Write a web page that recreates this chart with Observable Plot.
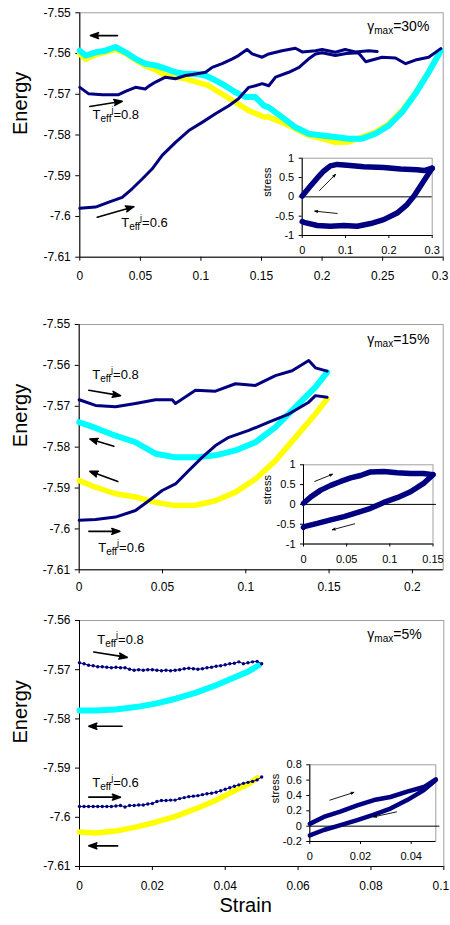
<!DOCTYPE html>
<html><head><meta charset="utf-8">
<script src="https://cdn.jsdelivr.net/npm/d3@7"></script>
<script src="https://cdn.jsdelivr.net/npm/@observablehq/plot@0.6"></script>
<style>
html,body{margin:0;padding:0;background:#fff;overflow:hidden}
#chart{position:relative;width:450px;height:925px}
#chart svg{position:absolute;left:0}
</style></head><body><div id="chart"></div>
<script>
// ---------- Panel 1 (gamma_max = 30%) ----------
const p1xTicks = [0, 0.05, 0.1, 0.15, 0.2, 0.25, 0.3];
const p1yTicks = [-7.55, -7.56, -7.57, -7.58, -7.59, -7.6, -7.61];
const p1Navy08X = [0, .0074, .0185, .032, .0377, .046, .054, .057, .0625, .0707, .079, .0873, .0955, .1038, .1093, .1175, .126, .131, .138, .1423, .1506, .156, .167, .178, .1836, .1946, .2, .211, .219, .2276, .2386, .2455];
const p1Navy08Y = [-7.5683, -7.5699, -7.5701, -7.5701, -7.5693, -7.5683, -7.5687, -7.5680, -7.5670, -7.5658, -7.5662, -7.5654, -7.5650, -7.5646, -7.5634, -7.5625, -7.5613, -7.5605, -7.5590, -7.5601, -7.5609, -7.5601, -7.5593, -7.5587, -7.5596, -7.5593, -7.5590, -7.5597, -7.5590, -7.5596, -7.5593, -7.5595];
const p1Navy06X = [0, .013, .024, .035, .0432, .0515, .0598, .068, .079, .090, .101, .112, .123, .131, .1395, .145, .1506, .156, .1616, .1725, .181, .189, .1946, .2, .211, .22, .23, .236, .2496, .2606, .269, .277, .288, .298];
const p1Navy06Y = [-7.5980, -7.5977, -7.5965, -7.5953, -7.5932, -7.5908, -7.5883, -7.5850, -7.5818, -7.5789, -7.5769, -7.5748, -7.5728, -7.5711, -7.5683, -7.5679, -7.5674, -7.5679, -7.5658, -7.5646, -7.5634, -7.5613, -7.5601, -7.5598, -7.5605, -7.5600, -7.5598, -7.5620, -7.5609, -7.5611, -7.5625, -7.5616, -7.5609, -7.5588];
const p1CyanX = [0, .0047, .013, .021, .0295, .0377, .046, .054, .0625, .0707, .079, .0873, .0955, .1038, .112, .120, .1285, .137, .145, .152, .156, .167, .178, .189, .200, .211, .222, .233, .244, .255, .266, .277, .288, .298];
const p1CyanY = [-7.5593, -7.5605, -7.5597, -7.5593, -7.5584, -7.5597, -7.5613, -7.5625, -7.5629, -7.5637, -7.5646, -7.5650, -7.5650, -7.5654, -7.5666, -7.5679, -7.5695, -7.5707, -7.5707, -7.5728, -7.5732, -7.5756, -7.5781, -7.5797, -7.5801, -7.5805, -7.5809, -7.5809, -7.5797, -7.5777, -7.5744, -7.5699, -7.5646, -7.5593];
const p1YellowX = [0, .0047, .013, .021, .0295, .0377, .046, .054, .0625, .0707, .0873, .106, .115, .126, .1395, .152, .156, .167, .178, .189, .200, .211, .222, .233, .244, .255, .266, .277, .288, .298];
const p1YellowY = [-7.5601, -7.5614, -7.5603, -7.5597, -7.5590, -7.5600, -7.5616, -7.5630, -7.5640, -7.5654, -7.5662, -7.5678, -7.5695, -7.5715, -7.5740, -7.5756, -7.5756, -7.5769, -7.5785, -7.5801, -7.5809, -7.5818, -7.5817, -7.5805, -7.5793, -7.5773, -7.5740, -7.5697, -7.5645, -7.5593];
const p1Arrows = [[.0311, -7.5556, .0088, -7.5556], [.0083, -7.5730, .035, -7.5717], [.0144, -7.6002, .0446, -7.5976]];
const p1Labels = [[.0105, -7.5760, "T_eff^j=0.8"], [.0342, -7.6026, "T_eff^j=0.6"], [.2373, -7.5545, "γ_max=30%"]];
// inset 1
const i1xTicks = [0, 0.1, 0.2, 0.3];
const i1yTicks = [1, 0.5, 0, -0.5, -1];
const i1LoadX = [0, .019, .035, .050, .065, .081, .104, .142, .188, .227, .265, .281, .3];
const i1LoadY = [0.02, 0.28, 0.49, 0.67, 0.80, 0.84, 0.82, 0.78, 0.76, 0.72, 0.70, 0.68, 0.74];
const i1UnloadX = [.3, .288, .273, .258, .242, .219, .188, .158, .127, .096, .065, .035, .004, 0];
const i1UnloadY = [0.74, 0.54, 0.28, 0.02, -0.20, -0.42, -0.59, -0.69, -0.76, -0.74, -0.76, -0.74, -0.66, -0.64];
const i1Arrows = [[.040, .166, .0768, .58], [.0808, -.43, .029, -.37]];

// ---------- Panel 2 (gamma_max = 15%) ----------
const p2xTicks = [0, 0.05, 0.1, 0.15, 0.2];
const p2yTicks = [-7.55, -7.56, -7.57, -7.58, -7.59, -7.6, -7.61];
const p2Navy08X = [0, .0098, .0218, .0338, .0458, .0558, .0578, .0698, .0818, .0938, .1058, .1178, .1278, .1378, .1418, .1488];
const p2Navy08Y = [-7.5684, -7.5698, -7.5701, -7.5693, -7.5684, -7.5684, -7.5693, -7.5661, -7.5663, -7.5645, -7.5649, -7.5625, -7.5613, -7.5588, -7.5606, -7.5614];
const p2Navy06X = [0, .0098, .0218, .0338, .0418, .0498, .0578, .0658, .0738, .0818, .0898, .1018, .1138, .1258, .1378, .1418, .1488];
const p2Navy06Y = [-7.5979, -7.5977, -7.5971, -7.5955, -7.5931, -7.5906, -7.5890, -7.5857, -7.5825, -7.5796, -7.5776, -7.5759, -7.5739, -7.5719, -7.5690, -7.5674, -7.5678];
const p2CurveX = [0, .0098, .0218, .0338, .0458, .0578, .0698, .0818, .0938, .1058, .1178, .1298, .1418, .1488];
const p2CyanY = [-7.5739, -7.5753, -7.5772, -7.5788, -7.5816, -7.5825, -7.5825, -7.5820, -7.5808, -7.5788, -7.5751, -7.5702, -7.5653, -7.5617];
const p2YellowY = [-7.5882, -7.5898, -7.5914, -7.5922, -7.5935, -7.5943, -7.5942, -7.5931, -7.5910, -7.5878, -7.5833, -7.5776, -7.5719, -7.5682];
const p2Arrows = [[.0058, -7.5661, .0248, -7.5674], [.0208, -7.5798, .0064, -7.5780], [.0232, -7.5884, .0064, -7.5859], [.0058, -7.6006, .0244, -7.6006]];
const p2Labels = [[.0078, -7.5633, "T_eff^j=0.8"], [.0114, -7.6057, "T_eff^j=0.6"], [.1729, -7.5547, "γ_max=15%"]];
// inset 2
const i2xTicks = [0, 0.05, 0.1, 0.15];
const i2yTicks = [1, 0.5, 0, -0.5, -1];
const i2LoadX = [0, .0085, .020, .0315, .043, .0546, .066, .0777, .093, .1085, .124, .139, .15];
const i2LoadY = [0.03, .19, .36, .48, .58, .67, .73, .82, .83, .80, .78, .78, .75];
const i2UnloadX = [.15, .139, .124, .1085, .093, .0777, .062, .047, .0315, .016, .0008, 0];
const i2UnloadY = [.75, .53, .32, .17, .05, -.10, -.21, -.31, -.39, -.48, -.56, -.58];
const i2Arrows = [[.013, .58, .0335, .76], [.0592, -.49, .0335, -.64]];

// ---------- Panel 3 (gamma_max = 5%) ----------
const p3xTicks = [0, 0.02, 0.04, 0.06, 0.08, 0.1];
const p3yTicks = [-7.56, -7.57, -7.58, -7.59, -7.6, -7.61];
const p3NavyX = [0, .00125, .0025, .00375, .005, .00625, .0075, .00875, .01, .01125, .0125, .01375, .015, .01625, .0175, .01875, .02, .02125, .0225, .02375, .025, .02625, .0275, .02875, .03, .03125, .0325, .03375, .035, .03625, .0375, .03875, .04, .04125, .0425, .04375, .045, .04625, .0475, .04875, .05];
const p3Navy08Y = [-7.5686, -7.5688, -7.5691, -7.5692, -7.5694, -7.5694, -7.5695, -7.5696, -7.5695, -7.5696, -7.5696, -7.5699, -7.5701, -7.5700, -7.5701, -7.5700, -7.5700, -7.5701, -7.5702, -7.5701, -7.5702, -7.5701, -7.5700, -7.5698, -7.5697, -7.5698, -7.5699, -7.5698, -7.5696, -7.5695, -7.5693, -7.5692, -7.5690, -7.5688, -7.5687, -7.5684, -7.5688, -7.5686, -7.5684, -7.5683, -7.5688];
const p3Navy06Y = [-7.5978, -7.5978, -7.5978, -7.5978, -7.5978, -7.5978, -7.5978, -7.5978, -7.5977, -7.5976, -7.5979, -7.5976, -7.5976, -7.5975, -7.5975, -7.5973, -7.5972, -7.5968, -7.5966, -7.5966, -7.5965, -7.5965, -7.5962, -7.5960, -7.5958, -7.5957, -7.5956, -7.5954, -7.5952, -7.5951, -7.5949, -7.5946, -7.5943, -7.5940, -7.5937, -7.5934, -7.5931, -7.5929, -7.5927, -7.5924, -7.5918];
const p3CyanX = [0, .0044, .0099, .0154, .0209, .0264, .0318, .0373, .0428, .0465, .0492];
const p3CyanY = [-7.5783, -7.5783, -7.5781, -7.5776, -7.5769, -7.5759, -7.5747, -7.5732, -7.5715, -7.5703, -7.5691];
const p3YellowX = [0, .0044, .0099, .0154, .0209, .0264, .0318, .0373, .0428, .0465, .0488];
const p3YellowY = [-7.6030, -7.6032, -7.6028, -7.6020, -7.6010, -7.5998, -7.5983, -7.5966, -7.5945, -7.5932, -7.5920];
const p3Arrows = [[.0039, -7.5664, .0131, -7.5675], [.0117, -7.5815, .00255, -7.5815], [.00255, -7.5959, .01125, -7.5959], [.0105, -7.6058, .00255, -7.6058]];
const p3Labels = [[.00486, -7.5647, "T_eff^j=0.8"], [.0035, -7.5939, "T_eff^j=0.6"], [.079, -7.5637, "γ_max=5%"]];
// inset 3
const i3xTicks = [0, 0.02, 0.04];
const i3yTicks = [0.8, 0.6, 0.4, 0.2, 0, -0.2];
const i3LoadX = [0, .0055, .012, .0187, .0253, .0318, .0384, .045, .0497];
const i3LoadY = [.03, .12, .19, .27, .34, .38, .45, .51, .61];
const i3UnloadX = [.0497, .045, .0384, .0318, .0253, .0187, .0108, .0055, 0];
const i3UnloadY = [.60, .47, .34, .23, .15, .08, 0, -.05, -.12];
const i3Arrows = [[.0079, .339, .0174, .44], [.0342, .186, .0252, .121]];

// ---------- drawing ----------
const NAVY = "#000080", CYAN = "#00FFFF", YELLOW = "#FFFF00", FRAME = "#a0a0a0";
const FONT = "'Liberation Sans', Arial, sans-serif";
const pts = (xs, ys) => xs.map((x, i) => ({x, y: ys[i]}));
const arr = a => a.map(([x1, y1, x2, y2]) => ({x1, y1, x2, y2}));
const lab = a => a.map(([x, y, t]) => ({x, y, t}));
const fmt = d => String(d);
const chart = document.getElementById("chart");

function line(xs, ys, color, w) {
  return Plot.line(pts(xs, ys), {x: "x", y: "y", stroke: color, strokeWidth: w, strokeLinejoin: "round", strokeLinecap: "round"});
}

function richify(svg) {
  d3.select(svg).selectAll("text").each(function () {
    const s = this.textContent;
    const m = s.match(/^([^_]+)_([a-z]+)(?:\^([a-z]+))?(.*)$/);
    if (!m) return;
    const big = m[1] === "γ" ? 14 : 13;
    this.textContent = "";
    const sel = d3.select(this);
    sel.append("tspan").attr("font-size", big).text(m[1]);
    sel.append("tspan").attr("font-size", 10).attr("dy", 3).text(m[2]);
    if (m[3]) {
      sel.append("tspan").attr("font-size", 9).attr("dy", -9).text(m[3]);
      sel.append("tspan").attr("font-size", big).attr("dy", 6).text(m[4]);
    } else {
      sel.append("tspan").attr("font-size", big).attr("dy", -3).text(m[4]);
    }
  });
}

// nudge the right-most x tick label so it stays inside the page
function nudgeLastTick(svg) {
  const labels = d3.select(svg).selectAll("g[aria-label='x-axis tick label'] text").nodes();
  if (labels.length) labels[labels.length - 1].setAttribute("dx", -3);
}

function place(svg, top) {
  svg.style.top = top + "px";
  svg.style.position = "absolute";
  svg.style.background = "transparent";
  chart.appendChild(svg);
}

function mainPanel(o) {
  const marks = [
    Plot.frame({stroke: FRAME}),
    Plot.axisX({ticks: o.xt, tickFormat: fmt, tickSize: 4, tickPadding: o.xPad, label: null, fontSize: 12}),
    Plot.axisY({ticks: o.yt, tickFormat: fmt, tickSize: 4, tickPadding: 5, label: null, fontSize: 12}),
    Plot.ruleX([o.xd[0]], {stroke: "black"}),
    Plot.ruleY([o.yd[0]], {stroke: "black"}),
    ...o.series,
    Plot.arrow(arr(o.arrows), {x1: "x1", y1: "y1", x2: "x2", y2: "y2", stroke: "black", fill: "black", strokeWidth: 1.6, headLength: 8, headAngle: 40, strokeLinejoin: "miter"}),
    Plot.text(lab(o.labels), {x: "x", y: "y", text: "t", textAnchor: "start", lineAnchor: "bottom", fontSize: 13}),
    Plot.text(["Energy"], {text: d => d, frameAnchor: "left", rotate: -90, dx: 20 - o.ml, fontSize: 20})
  ];
  if (o.strain) marks.push(Plot.text(["Strain"], {text: d => d, frameAnchor: "bottom", dx: -16, dy: 45.7, fontSize: 20}));
  const svg = Plot.plot({
    width: 450, height: o.h,
    marginLeft: o.ml, marginRight: o.mr, marginTop: o.mt, marginBottom: o.mb,
    x: {domain: o.xd}, y: {domain: o.yd},
    style: {background: "transparent", fontFamily: FONT, fontSize: "12px", color: "black", overflow: "visible"},
    marks
  });
  richify(svg);
  if (o.nudge) nudgeLastTick(svg);
  place(svg, o.top);
}

function insetPanel(o) {
  const svg = Plot.plot({
    width: 450, height: o.h,
    marginLeft: o.ml, marginRight: o.mr, marginTop: o.mt, marginBottom: o.mb,
    x: {domain: o.xd}, y: {domain: o.yd},
    style: {background: "transparent", fontFamily: FONT, fontSize: "11px", color: "black", overflow: "visible"},
    marks: [
      Plot.frame({stroke: FRAME}),
      Plot.axisX({ticks: o.xt, tickFormat: fmt, tickSize: 3, tickPadding: 8, label: null, fontSize: 11}),
      Plot.axisY({ticks: o.yt, tickFormat: fmt, tickSize: 3, tickPadding: 5, label: null, fontSize: 11}),
      Plot.ruleX([o.xd[0]], {stroke: "black"}),
      Plot.ruleY([o.yd[0]], {stroke: "black"}),
      Plot.ruleY([0], {x1: o.xd[0], x2: o.zeroEnd, stroke: "black", strokeWidth: 1}),
      ...o.series,
      Plot.arrow(arr(o.arrows), {x1: "x1", y1: "y1", x2: "x2", y2: "y2", stroke: "black", fill: "black", strokeWidth: 0.9, headLength: 5, headAngle: 40, strokeLinejoin: "miter"}),
      Plot.text(["stress"], {text: d => d, frameAnchor: "left", rotate: -90, dx: o.sdx, fontSize: 11})
    ]
  });
  place(svg, o.top);
}

// Panel 1
mainPanel({top: 0, h: 295, ml: 79.3, mr: 7.3, mt: 12.3, mb: 295 - 256.7, xd: [0, 0.3], yd: [-7.61, -7.55],
  xt: p1xTicks, yt: p1yTicks, xPad: 10, arrows: p1Arrows, labels: p1Labels, nudge: true,
  series: [line(p1YellowX, p1YellowY, YELLOW, 5.5), line(p1CyanX, p1CyanY, CYAN, 6),
           line(p1Navy08X, p1Navy08Y, NAVY, 3), line(p1Navy06X, p1Navy06Y, NAVY, 3)]});
insetPanel({top: 0, h: 295, ml: 301.7, mr: 450 - 431.7, mt: 157.7, mb: 295 - 235, xd: [0, 0.3], yd: [-1, 1],
  xt: i1xTicks, yt: i1yTicks, zeroEnd: 0.3, sdx: -35, arrows: i1Arrows,
  series: [line(i1LoadX, i1LoadY, NAVY, 5.5), line(i1UnloadX, i1UnloadY, NAVY, 5.5)]});

// Panel 2
mainPanel({top: 300, h: 300, ml: 78.7, mr: 7.3, mt: 24, mb: 300 - 269.3, xd: [0, 0.2185], yd: [-7.61, -7.55],
  xt: p2xTicks, yt: p2yTicks, xPad: 9, arrows: p2Arrows, labels: p2Labels,
  series: [line(p2CurveX, p2YellowY, YELLOW, 5.5), line(p2CurveX, p2CyanY, CYAN, 6),
           line(p2Navy08X, p2Navy08Y, NAVY, 3), line(p2Navy06X, p2Navy06Y, NAVY, 3)]});
insetPanel({top: 300, h: 300, ml: 303, mr: 450 - 432.5, mt: 164.3, mb: 300 - 243.5, xd: [0, 0.15], yd: [-1, 1],
  xt: i2xTicks, yt: i2yTicks, zeroEnd: 0.154, sdx: -36.5, arrows: i2Arrows,
  series: [line(i2LoadX, i2LoadY, NAVY, 5.5), line(i2UnloadX, i2UnloadY, NAVY, 5.5)]});

// Panel 3
mainPanel({top: 600, h: 325, ml: 79, mr: 6.7, mt: 20, mb: 59, xd: [0, 0.1], yd: [-7.61, -7.56],
  xt: p3xTicks, yt: p3yTicks, xPad: 11, arrows: p3Arrows, labels: p3Labels, strain: true, nudge: true,
  series: [line(p3YellowX, p3YellowY, YELLOW, 5.5), line(p3CyanX, p3CyanY, CYAN, 6),
           line(p3NavyX, p3Navy08Y, NAVY, 1), line(p3NavyX, p3Navy06Y, NAVY, 1),
           Plot.dot(pts(p3NavyX, p3Navy08Y), {x: "x", y: "y", r: 1.7, fill: NAVY}),
           Plot.dot(pts(p3NavyX, p3Navy06Y), {x: "x", y: "y", r: 1.7, fill: NAVY})]});
insetPanel({top: 600, h: 325, ml: 309.3, mr: 450 - 435.3, mt: 164.3, mb: 325 - 241, xd: [0, 0.0497], yd: [-0.2, 0.8],
  xt: i3xTicks, yt: i3yTicks, zeroEnd: 0.0513, sdx: -34, arrows: i3Arrows,
  series: [line(i3LoadX, i3LoadY, NAVY, 4.5), line(i3UnloadX, i3UnloadY, NAVY, 4.5)]});
</script></body></html>
